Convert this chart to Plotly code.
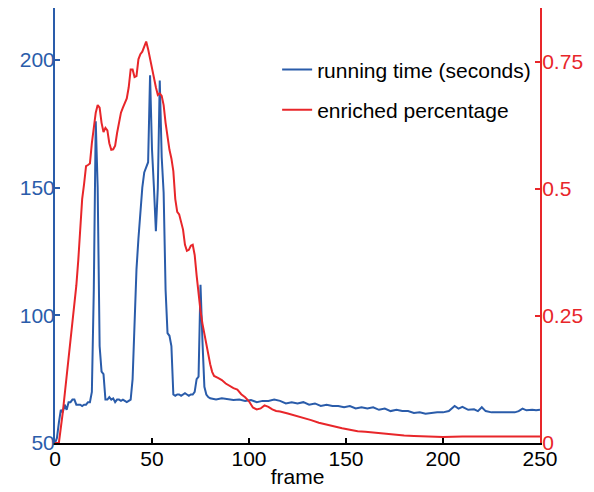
import plotly.graph_objects as go

# running time (seconds)
run_frames = [0, 1, 2, 3, 4, 5, 6, 7, 8, 9, 10, 11, 12, 13, 14, 15, 16, 17, 18, 19,
              20, 21, 22, 23, 24, 25, 26, 27, 28, 29, 30, 31, 32, 33, 34, 35, 36, 37, 38, 39,
              40, 41, 42, 43, 44, 45, 46, 47, 48, 49, 50, 51, 52, 53, 54, 55, 56, 57, 58, 59,
              60, 61, 62, 63, 64, 65, 66, 67, 68, 69, 70, 71, 72, 73, 74, 75, 76, 77, 78, 79,
              80, 83, 86, 89, 92, 95, 98, 101, 104, 107, 110, 113, 116, 119, 122, 125, 128,
              131, 134, 137, 140, 143, 146, 149, 152, 155, 158, 161, 164, 167, 170, 173, 176,
              179, 182, 185, 188, 191, 194, 197, 200, 203, 206, 208, 210, 213, 216, 218, 220,
              222, 225, 228, 231, 234, 237, 239, 241, 243, 246, 248, 250]
run_time = [50, 52, 58, 63, 62, 65, 63, 66, 66, 67, 67, 65, 65, 65, 64.5, 65, 65, 66, 66, 70,
            110, 176, 150, 88, 78, 77, 67, 67, 68, 67, 67.5, 66, 67, 67, 66.5, 67, 66.5, 66, 66.5, 67,
            75, 100, 118, 130, 140, 150, 156, 158, 160, 194, 165, 150, 133, 150, 192, 162, 148, 110, 93, 92,
            88, 69, 68.5, 69, 69, 68.5, 69, 69.5, 69, 68.5, 69, 69, 70, 75, 76, 112, 90, 72, 69, 68,
            67.5, 67, 67.5, 67, 66.8, 67, 66.5, 66.8, 66, 66.5, 66.5, 67, 66.5, 65.5, 66, 65.5, 66,
            65, 65.5, 64.5, 65, 64.5, 64.5, 64, 64.5, 63.5, 64, 63.5, 64, 63, 63.5, 62.5, 63,
            62.5, 62.5, 61.8, 62, 61.5, 61.8, 62, 62, 62.5, 64.5, 63.5, 64.2, 63, 63.2, 62.5, 64,
            62.5, 62, 62, 62, 61.8, 62, 62.5, 63.5, 62.8, 63, 62.8, 63]

# enriched percentage
enr_frames = [0, 2, 4, 6, 8, 10, 11, 12, 13, 14, 15, 16, 17, 18, 19, 20, 21, 22, 23, 24,
              25, 26, 27, 28, 29, 30, 31, 32, 33, 34, 35, 36, 37, 38, 39, 40, 41, 42, 43, 44,
              45, 46, 47, 48, 49, 50, 51, 52, 53, 54, 55, 56, 57, 58, 59, 60, 61, 62, 63, 64,
              65, 66, 67, 68, 69, 70, 71, 72, 73, 74, 75, 76, 77, 78, 79, 80, 81, 82, 84, 86,
              88, 90, 92, 94, 96, 98, 100, 102, 104, 106, 108, 110, 112, 114, 116, 120, 124,
              128, 132, 136, 140, 144, 148, 152, 156, 160, 165, 170, 175, 180, 185, 190, 195,
              200, 210, 220, 230, 240, 250]
enriched = [0, 0, 0.06, 0.13, 0.21, 0.28, 0.31, 0.36, 0.42, 0.48, 0.51, 0.545, 0.547, 0.55, 0.59, 0.62, 0.65, 0.665, 0.66, 0.63,
            0.612, 0.62, 0.615, 0.59, 0.577, 0.578, 0.585, 0.61, 0.63, 0.65, 0.66, 0.67, 0.678, 0.7, 0.735, 0.735, 0.72, 0.722, 0.755, 0.765,
            0.77, 0.78, 0.79, 0.775, 0.755, 0.74, 0.72, 0.7, 0.685, 0.688, 0.683, 0.665, 0.63, 0.6, 0.577, 0.56, 0.535, 0.48, 0.455, 0.45,
            0.435, 0.42, 0.39, 0.378, 0.38, 0.388, 0.39, 0.37, 0.33, 0.29, 0.26, 0.235, 0.215, 0.19, 0.17, 0.155, 0.14, 0.132, 0.128, 0.124,
            0.117, 0.112, 0.108, 0.105, 0.096, 0.09, 0.082, 0.07, 0.066, 0.068, 0.074, 0.071, 0.066, 0.063, 0.062, 0.058, 0.054,
            0.05, 0.045, 0.04, 0.036, 0.032, 0.029, 0.026, 0.023, 0.022, 0.02, 0.018, 0.016, 0.015, 0.014, 0.013, 0.012,
            0.012, 0.013, 0.013, 0.013, 0.013, 0.013]

x_ticks = [0, 50, 100, 150, 200, 250]
y_ticks = [50, 100, 150, 200]
y2_ticks = [0, 0.25, 0.5, 0.75]
y2_labels = ["0", "0.25", "0.5", "0.75"]

BLUE = "#2a5caa"
RED = "#e8262a"
FONT = "Liberation Sans, Arial, sans-serif"
FS = 21

fig = go.Figure()
fig.add_trace(go.Scatter(x=run_frames, y=run_time, mode="lines", name="running time (seconds)",
                         line=dict(color=BLUE, width=2), yaxis="y", legendgroup="a"))
fig.add_trace(go.Scatter(x=enr_frames, y=enriched, mode="lines", name="enriched percentage",
                         line=dict(color=RED, width=2), yaxis="y2", legendgroup="b"))

fig.update_layout(
    width=594, height=492,
    margin=dict(l=47, r=62, t=0, b=57, autoexpand=False),
    paper_bgcolor="white", plot_bgcolor="white",
    font=dict(family=FONT, size=FS, color="black"),
    showlegend=True,
    legend=dict(x=0.458, y=0.905, xanchor="left", yanchor="top", bgcolor="rgba(0,0,0,0)",
                font=dict(size=FS, color="black"), tracegroupgap=10, itemwidth=30),
    xaxis=dict(range=[0, 250], tickvals=x_ticks, ticks="inside", ticklen=5, tickwidth=1.5,
               tickcolor="black", showline=True, linecolor="black", linewidth=2, mirror=True,
               showgrid=False, zeroline=False, automargin=False, ticklabelstandoff=-4,
               title=dict(text="frame", standoff=0, font=dict(size=FS)),
               tickfont=dict(size=FS, color="black")),
    yaxis=dict(range=[50, 220.4], tickvals=y_ticks, ticks="inside", ticklen=5, tickwidth=1.5,
               tickcolor=BLUE, showline=True, linecolor=BLUE, linewidth=2, showgrid=False,
               zeroline=False, automargin=False, ticklabelstandoff=-6,
               tickfont=dict(size=FS, color=BLUE)),
    yaxis2=dict(range=[0, 0.856], tickvals=y2_ticks, ticktext=y2_labels, overlaying="y",
                side="right", ticks="inside", ticklen=5, tickwidth=1.5, tickcolor=RED,
                showline=True, linecolor=RED, linewidth=2, showgrid=False, zeroline=False,
                automargin=False, ticklabelstandoff=-4, tickfont=dict(size=FS, color=RED)),
)

fig.write_html("out.html")
